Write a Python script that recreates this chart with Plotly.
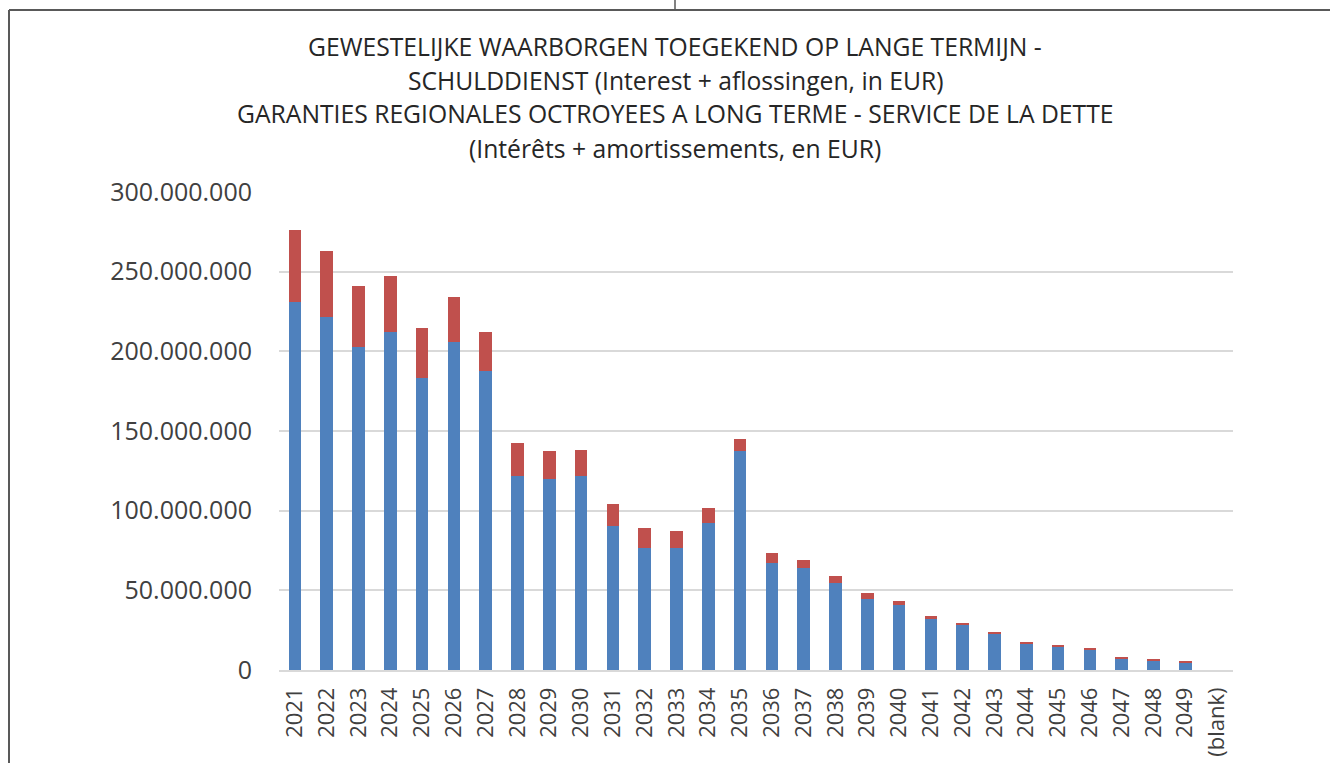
import plotly.graph_objects as go

years = [str(y) for y in range(2021, 2050)] + ["(blank)"]
totals = [276.2, 263.2, 241.0, 247.1, 214.4, 234.3, 211.9, 142.7, 137.4, 138.1,
          104.0, 89.3, 87.4, 101.7, 145.2, 73.7, 69.3, 59.0, 48.1, 43.1,
          33.6, 29.6, 24.0, 17.2, 15.3, 13.4, 7.8, 6.9, 5.9, 0.0]
blue_m = [231.2, 221.8, 202.7, 212.1, 183.3, 205.9, 187.9, 122.0, 119.7, 122.0,
          90.2, 76.8, 76.5, 92.2, 137.6, 67.0, 64.1, 54.6, 44.7, 40.5,
          31.9, 28.6, 22.9, 16.6, 14.7, 12.8, 7.1, 6.1, 5.0, 0.0]
blue = [v * 1e6 for v in blue_m]
red = [(t - b) * 1e6 for t, b in zip(totals, blue_m)]

tick_vals = [0, 50e6, 100e6, 150e6, 200e6, 250e6, 300e6]
tick_text = ["0", "50.000.000", "100.000.000", "150.000.000", "200.000.000", "250.000.000", "300.000.000"]

title_lines = [
    "GEWESTELIJKE WAARBORGEN TOEGEKEND OP LANGE TERMIJN -",
    "SCHULDDIENST (Interest + aflossingen, in EUR)",
    "GARANTIES REGIONALES OCTROYEES A LONG TERME - SERVICE DE LA DETTE",
    "(Intérêts + amortissements, en EUR)",
]

W, H = 1330, 763
L, R, T, B = 279, 1233, 192, 670
pw, ph = R - L, B - T

def px(x):
    return (x - L) / pw

def py(y):
    return (B - y) / ph

fig = go.Figure()
fig.add_trace(go.Bar(x=years, y=blue, marker_color="#4F81BD", name="Interest",
                     marker_line_width=0))
fig.add_trace(go.Bar(x=years, y=red, marker_color="#C0504D", name="Aflossingen",
                     marker_line_width=0))

font_family = "Open Sans"
text_col = "#404040"

annotations = []
for line, yc in zip(title_lines, [47, 80, 114, 148]):
    annotations.append(dict(text=line, x=px(675), y=py(yc), xref="paper", yref="paper",
                            xanchor="center", yanchor="middle", showarrow=False,
                            font=dict(family=font_family, size=24.7, color="#262626")))

line_col = "#595959"
shapes = [
    dict(type="line", xref="paper", yref="paper", x0=px(9), x1=px(1332), y0=py(10), y1=py(10),
         line=dict(color=line_col, width=2)),
    dict(type="line", xref="paper", yref="paper", x0=px(9), x1=px(9), y0=py(10), y1=py(765),
         line=dict(color=line_col, width=2)),
    dict(type="line", xref="paper", yref="paper", x0=px(675), x1=px(675), y0=py(-2), y1=py(10),
         line=dict(color=line_col, width=1.5)),
]

fig.update_layout(
    width=W, height=H,
    margin=dict(l=L, r=W - R, t=T, b=H - B, pad=0),
    barmode="stack", bargap=0.6,
    showlegend=False,
    plot_bgcolor="white", paper_bgcolor="white",
    font=dict(family=font_family, color=text_col),
    annotations=annotations, shapes=shapes,
)
fig.update_xaxes(type="category", tickangle=-90, tickfont=dict(size=22, color=text_col),
                 showgrid=False, showline=True, linecolor="#D9D9D9", linewidth=1.5,
                 ticks="", ticklen=0, ticklabelstandoff=7, automargin=False)
fig.update_yaxes(range=[0, 300e6], tickvals=tick_vals, ticktext=tick_text,
                 tickfont=dict(size=25, color=text_col), showgrid=True,
                 gridcolor="#D9D9D9", gridwidth=1.5, zeroline=False, ticks="",
                 ticklabelstandoff=26, automargin=False)

fig.write_html("out.html", config={"displayModeBar": False},
               post_script="document.body.style.margin='0';document.body.style.overflow='hidden';")
